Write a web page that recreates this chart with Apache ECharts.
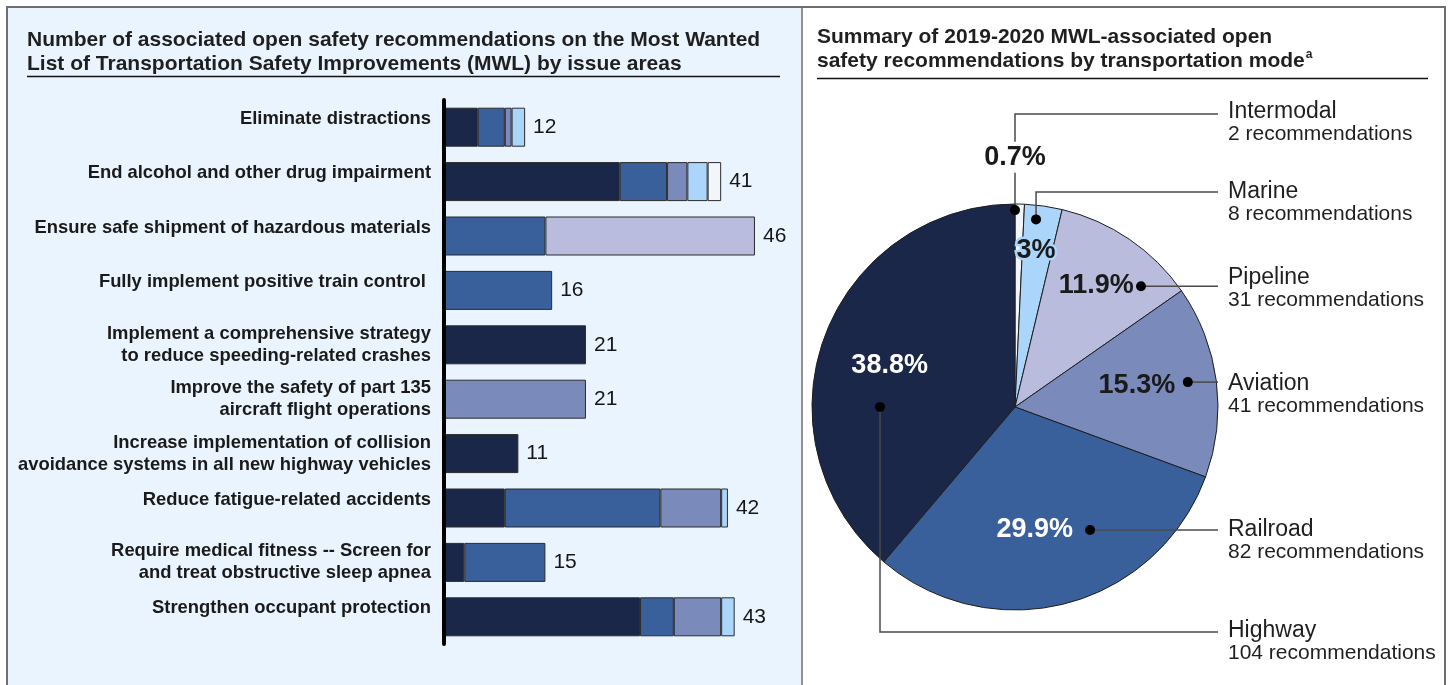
<!DOCTYPE html>
<html>
<head>
<meta charset="utf-8">
<script src="https://cdn.jsdelivr.net/npm/echarts@6/dist/echarts.min.js"></script>
<style>
  html, body { margin: 0; padding: 0; background: #ffffff; }
  #chart { width: 1449px; height: 685px; }
</style>
</head>
<body>
<div id="chart"></div>
<script>
// ---------------- DATA ----------------
const categories = [
  'Eliminate distractions',
  'End alcohol and other drug impairment',
  'Ensure safe shipment of hazardous materials',
  'Fully implement positive train control ',
  'Implement a comprehensive strategy\nto reduce speeding-related crashes',
  'Improve the safety of part 135\naircraft flight operations',
  'Increase implementation of collision\navoidance systems in all new highway vehicles',
  'Reduce fatigue-related accidents',
  'Require medical fitness -- Screen for\nand treat obstructive sleep apnea',
  'Strengthen occupant protection'
];
const modes = ['Highway', 'Railroad', 'Aviation', 'Pipeline', 'Marine', 'Intermodal'];
const highway    = [5, 26, 0, 0, 21, 0, 11, 9, 3, 29];
const railroad   = [4, 7, 15, 16, 0, 0, 0, 23, 12, 5];
const aviation   = [1, 3, 0, 0, 0, 21, 0, 9, 0, 7];
const pipeline   = [0, 0, 31, 0, 0, 0, 0, 0, 0, 0];
const marine     = [2, 3, 0, 0, 0, 0, 0, 1, 0, 2];
const intermodal = [0, 2, 0, 0, 0, 0, 0, 0, 0, 0];
const totals     = [12, 41, 46, 16, 21, 21, 11, 42, 15, 43];

const pieModes  = ['Intermodal', 'Marine', 'Pipeline', 'Aviation', 'Railroad', 'Highway'];
const pieCounts = [2, 8, 31, 41, 82, 104];
const piePct    = ['0.7%', '3%', '11.9%', '15.3%', '29.9%', '38.8%'];

const leftTitle  = 'Number of associated open safety recommendations on the Most Wanted\nList of Transportation Safety Improvements (MWL) by issue areas';
const rightTitle = 'Summary of 2019-2020 MWL-associated open\nsafety recommendations by transportation mode{sup|a}';

// ---------------- STYLE ----------------
const FONT = '"Liberation Sans", Arial, Helvetica, sans-serif';
const colors = {
  Highway: '#1b2748',
  Railroad: '#39609b',
  Aviation: '#7a8aba',
  Pipeline: '#b9bcdc',
  Marine: '#acd5fb',
  Intermodal: '#f2f6fb'
};
const seriesValues = [highway, railroad, aviation, pipeline, marine, intermodal];

const pieCX = 1015, pieCY = 407, pieR = 203;
// callout placement (angle in degrees clockwise from top, radius fraction)
const callouts = [
  { dot: [0, 0.97],     pct: [0, 1.23],     elbowY: 114, nameY: 112, pctColor: '#1a1a1a', pctBg: '#ffffff' },
  { dot: [6.4, 0.93],   pct: [7.6, 0.78],   elbowY: 192, nameY: 192, pctColor: '#1a1a1a', pctStroke: '#acd5fb' },
  { dot: [46.2, 0.86],  pct: [33.8, 0.72],  elbowY: null, nameY: 278, pctColor: '#1a1a1a' },
  { dot: [81.8, 0.86],  pct: [79.8, 0.61],  elbowY: null, nameY: 384, pctColor: '#1a1a1a' },
  { dot: [148.6, 0.71], pct: [170.8, 0.61], elbowY: null, nameY: 530, pctColor: '#ffffff' },
  { dot: [270, 0.665],  pct: [288.2, 0.65], elbowY: 632, nameY: 631, pctColor: '#ffffff' }
];
const lineEndX = 1218, nameX = 1228;

function polar(angDeg, rFrac) {
  const a = angDeg * Math.PI / 180;
  return [pieCX + pieR * rFrac * Math.sin(a), pieCY - pieR * rFrac * Math.cos(a)];
}

// ---------------- BUILD ----------------
const chart = echarts.init(document.getElementById('chart'), null, { renderer: 'canvas' });

const barSeries = modes.map((m, k) => ({
  name: m,
  type: 'bar',
  stack: 'total',
  barWidth: 39,
  silent: true,
  itemStyle: { color: colors[m], borderColor: '#2b2b2b', borderWidth: 1 },
  data: seriesValues[k].map(v => (v === 0 ? '-' : v)),
  z: 2
}));
barSeries.push({
  name: 'Total',
  type: 'bar',
  stack: 'total',
  barWidth: 39,
  silent: true,
  itemStyle: { color: 'rgba(0,0,0,0)', borderWidth: 0 },
  label: {
    show: true,
    position: 'right',
    distance: 8,
    fontFamily: FONT,
    fontSize: 21,
    color: '#151515',
    formatter: p => String(totals[p.dataIndex])
  },
  data: totals.map(() => 0),
  z: 3
});

const graphics = [];
// panels
graphics.push({ type: 'rect', z: -20, silent: true, shape: { x: 8, y: 8, width: 794, height: 700 }, style: { fill: '#eaf4fe' } });
graphics.push({ type: 'polyline', z: -5, silent: true, shape: { points: [[7, 700], [7, 7], [1445, 7], [1445, 700]] }, style: { stroke: '#6e6e6e', lineWidth: 2, fill: null } });
graphics.push({ type: 'line', z: -5, silent: true, shape: { x1: 802, y1: 7, x2: 802, y2: 700 }, style: { stroke: '#6e6e6e', lineWidth: 1.5 } });
// title underlines
graphics.push({ type: 'line', silent: true, shape: { x1: 27, y1: 76.5, x2: 780, y2: 76.5 }, style: { stroke: '#111', lineWidth: 1.5 } });
graphics.push({ type: 'line', silent: true, shape: { x1: 817, y1: 78.5, x2: 1428, y2: 78.5 }, style: { stroke: '#111', lineWidth: 1.5 } });

// pie callouts
callouts.forEach((c, i) => {
  const d = polar(c.dot[0], c.dot[1]);
  let pts;
  if (c.elbowY !== null) pts = [d, [d[0], c.elbowY], [lineEndX, c.elbowY]];
  else pts = [d, [lineEndX, d[1]]];
  graphics.push({ type: 'polyline', z: 10, silent: true, shape: { points: pts }, style: { stroke: '#4a4a4a', lineWidth: 1.5, fill: null } });
  graphics.push({ type: 'circle', z: 12, silent: true, shape: { cx: d[0], cy: d[1], r: 5 }, style: { fill: '#000' } });
  const p = polar(c.pct[0], c.pct[1]);
  const st = {
    text: piePct[i], x: p[0], y: p[1], align: 'center', verticalAlign: 'middle',
    font: 'bold 27px ' + FONT, fill: c.pctColor
  };
  if (c.pctBg) { st.backgroundColor = c.pctBg; st.padding = [2, 2]; }
  if (c.pctStroke) { st.stroke = c.pctStroke; st.lineWidth = 5; }
  graphics.push({ type: 'text', z: 14, silent: true, style: st });
  graphics.push({ type: 'text', z: 14, silent: true, style: { text: pieModes[i], x: nameX, y: c.nameY, align: 'left', verticalAlign: 'middle', font: '23px ' + FONT, fill: '#1f1f1f' } });
  graphics.push({ type: 'text', z: 14, silent: true, style: { text: pieCounts[i] + ' recommendations', x: nameX, y: c.nameY + 22, align: 'left', verticalAlign: 'middle', font: '21px ' + FONT, fill: '#1f1f1f' } });
});

const labelStyle = { fontFamily: FONT, fontSize: 18.4, fontWeight: 'bold', color: '#1a1a1a' };

const option = {
  animation: false,
  backgroundColor: '#ffffff',
  title: [
    {
      text: leftTitle, left: 27, top: 28, padding: 0,
      textStyle: { fontFamily: FONT, fontSize: 21, fontWeight: 'bold', color: '#1f1f1f', lineHeight: 24 }
    },
    {
      text: rightTitle, left: 817, top: 25, padding: 0,
      textStyle: {
        fontFamily: FONT, fontSize: 21, fontWeight: 'bold', color: '#1f1f1f', lineHeight: 24,
        rich: { sup: { fontFamily: FONT, fontSize: 12, fontWeight: 'bold', color: '#1f1f1f', verticalAlign: 'top', lineHeight: 18, padding: [0, 0, 8, 1] } }
      }
    }
  ],
  grid: { left: 444, top: 100, width: 338, height: 544, containLabel: false },
  xAxis: { type: 'value', min: 0, max: 50, show: false },
  yAxis: {
    type: 'category',
    inverse: true,
    data: categories,
    z: 5,
    axisLine: { show: true, lineStyle: { color: '#000', width: 4 } },
    axisTick: { show: false },
    splitLine: { show: false },
    axisLabel: Object.assign({}, labelStyle, {
      lineHeight: 22, margin: 13,
      formatter: v => (v.indexOf('\n') >= 0 ? v : '{s|' + v + '}\n{s| }'),
      rich: { s: Object.assign({}, labelStyle, { lineHeight: 17 }) }
    })
  },
  series: barSeries.concat([{
    name: 'Modes',
    type: 'pie',
    center: [pieCX, pieCY],
    radius: pieR,
    startAngle: 90,
    clockwise: true,
    silent: true,
    label: { show: false },
    labelLine: { show: false },
    itemStyle: { borderColor: '#1e1e1e', borderWidth: 1 },
    data: pieModes.map((m, i) => ({ name: m, value: pieCounts[i], itemStyle: { color: colors[m] } })),
    z: 2
  }]),
  graphic: graphics
};
chart.setOption(option);
</script>
</body>
</html>
